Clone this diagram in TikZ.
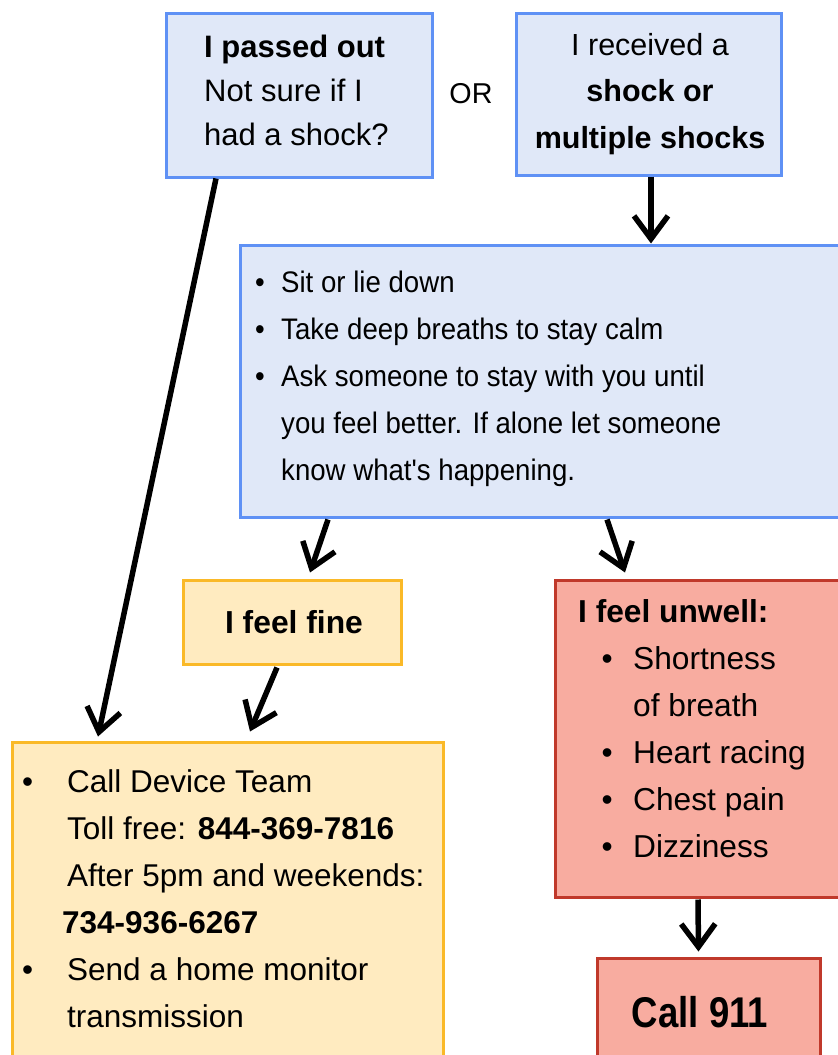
\documentclass[tikz,border=0pt]{standalone}
\usepackage{fontspec}
\setmainfont{Liberation Sans}
\newfontfamily\aposf{Liberation Sans}
\newfontfamily\narrowf{Liberation Sans}[FakeStretch=0.93]
\newfontfamily\condf{Liberation Sans}[FakeStretch=0.85]
\usetikzlibrary{arrows.meta,calc}
\definecolor{bluefill}{RGB}{224,232,248}
\definecolor{blueline}{RGB}{95,145,245}
\definecolor{yelfill}{RGB}{255,235,192}
\definecolor{yelline}{RGB}{250,185,40}
\definecolor{redfill}{RGB}{248,172,160}
\definecolor{redline}{RGB}{192,57,43}
\begin{document}
\begin{tikzpicture}[x=1pt,y=-1pt,
  box/.style={draw,rectangle,line width=3pt,inner sep=0pt,anchor=center},
  bluebox/.style={box,draw=blueline,fill=bluefill},
  yelbox/.style={box,draw=yelline,fill=yelfill},
  redbox/.style={box,draw=redline,fill=redfill},
  txt/.style={inner sep=0pt,align=left,anchor=base west},
  ctxt/.style={inner sep=0pt,align=center,anchor=base},
  arr/.style={line width=5.5pt,-{Straight Barb[length=23pt,width=34pt]}}]
\useasboundingbox (0,0) rectangle (838,1055);
\begin{scope}
\clip (0,0) rectangle (838,1055);
\node[bluebox,minimum width=266pt,minimum height=164pt] (b1) at (299,95) {};
\node[bluebox,minimum width=265pt,minimum height=162pt] (b2) at (648.5,94) {};
\node[bluebox,minimum width=620pt,minimum height=272pt] (big) at (550,381) {};
\node[yelbox,minimum width=218pt,minimum height=84pt] (fine) at (292,622) {};
\node[redbox,minimum width=305pt,minimum height=317pt] (unwell) at (707.5,738.5) {};
\node[yelbox,minimum width=431pt,minimum height=338pt] (yel) at (227.5,911) {};
\node[redbox,minimum width=223pt,minimum height=122pt] (call) at (708.5,1019) {};
\end{scope}

\node[txt,font=\fontsize{31}{44}\selectfont] (t1) at (204,145)
  {\textbf{I passed out}\\Not sure if I\\had a shock?};
\node[ctxt,font=\fontsize{30.5}{46.5}\selectfont] (t2) at (650,148)
  {I received a\\\textbf{shock or}\\\textbf{multiple shocks}};
\node[ctxt,font=\fontsize{28.7}{34}\selectfont] (or) at (471,103) {OR};
\node[txt,font=\narrowf\fontsize{29.7}{47}\selectfont] (t3) at (255,480)
  {\makebox[26pt][l]{•}Sit or lie down\\
   \makebox[26pt][l]{•}Take deep breaths to stay calm\\
   \makebox[26pt][l]{•}Ask someone to stay with you until\\
   \hspace*{26pt}you feel better. If alone let someone\\
   \hspace*{26pt}know what's happening.};
\node[ctxt,font=\fontsize{31.8}{38}\selectfont\bfseries] (t4) at (294,633) {I feel fine};
\node[txt,font=\fontsize{31.7}{47}\selectfont] (t5) at (578,857)
  {\textbf{I feel unwell:}\\
   \hspace*{23.5pt}\makebox[31.5pt][l]{•}Shortness\\
   \hspace*{55pt}of breath\\
   \hspace*{23.5pt}\makebox[31.5pt][l]{•}Heart racing\\
   \hspace*{23.5pt}\makebox[31.5pt][l]{•}Chest pain\\
   \hspace*{23.5pt}\makebox[31.5pt][l]{•}Dizziness};
\node[txt,font=\fontsize{31.5}{47}\selectfont] (t6) at (22,1027)
  {\makebox[45pt][l]{•}Call Device Team\\
   \hspace*{45pt}Toll free: \textbf{844-369-7816}\\
   \hspace*{45pt}After 5pm and weekends:\\
   \hspace*{40pt}\textbf{734-936-6267}\\
   \makebox[45pt][l]{•}Send a home monitor\\
   \hspace*{45pt}transmission};
\node[ctxt,font=\condf\fontsize{43}{50}\selectfont\bfseries] (t7) at (700,1027) {Call 911};

\draw[arr] ([xshift=-83pt]b1.south) -- ([xshift=-129.5pt,yshift=4pt]yel.north);
\draw[arr] ([xshift=2.5pt]b2.south) -- ([xshift=2.5pt]b2.south |- big.north);
\draw[arr] ([xshift=-222pt,yshift=-1pt]big.south) -- ([xshift=18pt,yshift=6pt]fine.north);
\draw[arr] ([xshift=57pt,yshift=-1pt]big.south) -- ([xshift=-82.5pt,yshift=6pt]unwell.north);
\draw[arr] ([xshift=-15pt,yshift=-2pt]fine.south) -- ([xshift=22.5pt,yshift=9pt]yel.north);
\draw[arr] ([xshift=-9.5pt,yshift=-1pt]unwell.south) -- ([xshift=-10pt,yshift=5pt]call.north);
\end{tikzpicture}
\end{document}
